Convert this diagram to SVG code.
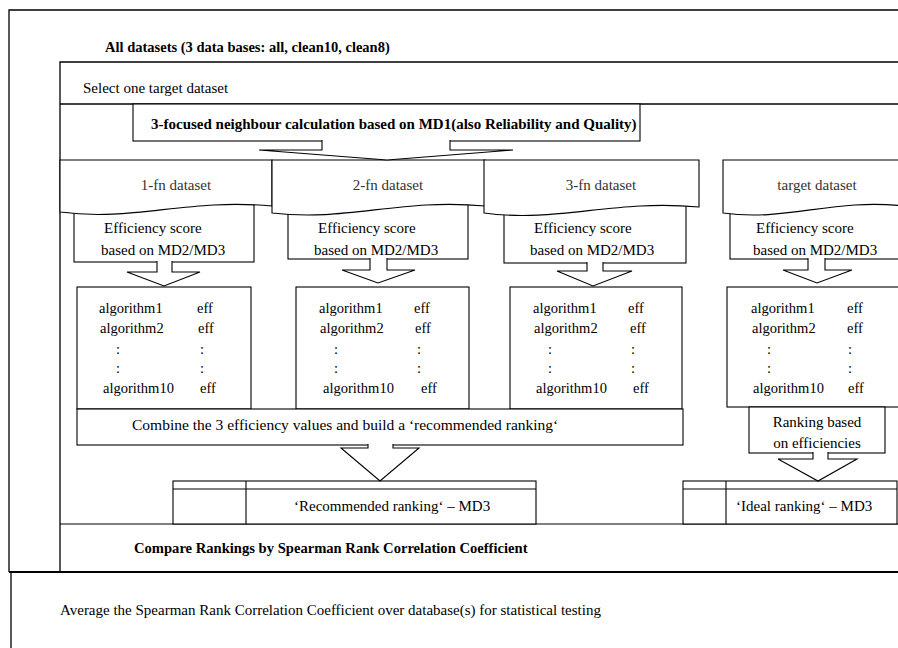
<svg xmlns="http://www.w3.org/2000/svg" width="898" height="648" viewBox="0 0 898 648">
<style>
  .frame { fill: none; stroke: #000; stroke-width: 1.3; }
  .thick { fill: none; stroke: #000; stroke-width: 2.2; }
  .box { fill: #fff; stroke: #000; stroke-width: 1.1; }
  .line { fill: none; stroke: #000; stroke-width: 1.1; }
  .arrow { fill: #fff; stroke: #000; stroke-width: 1.1; stroke-linejoin: miter; }
  text { font-family: "Liberation Serif", "Times New Roman", serif; fill: #000; }
  .b { font-weight: bold; font-size: 14.5px; }
  .r { font-size: 15px; }
  .ds { font-size: 15px; fill: #333; text-anchor: middle; }
  .alg { font-size: 14.5px; }
  .mid { text-anchor: middle; }
</style>

<g id="frames">
  <path class="frame" d="M9,572 V10 H900"/>
  <path class="frame" d="M60,572 V62 H900"/>
  <path class="frame" d="M60,104 H900"/>
  <path class="line" d="M60,524 H900"/>
  <path class="thick" d="M9,572 H900"/>
  <path class="frame" d="M11,572 V650"/>
  <text class="b" x="105" y="52">All datasets (3 data bases: all, clean10, clean8)</text>
  <text class="r" x="83" y="93">Select one target dataset</text>
  <text class="b" x="134" y="553" style="font-size:14.6px">Compare Rankings by Spearman Rank Correlation Coefficient</text>
  <text class="r" x="60" y="615">Average the Spearman Rank Correlation Coefficient over database(s) for statistical testing</text>
</g>

<g id="neighbour">
  <rect class="box" x="133" y="104" width="507" height="37"/>
  <text class="b" x="151" y="129" style="font-size:15px">3-focused neighbour calculation based on MD1(also Reliability and Quality)</text>
</g>

<!-- efficiency score boxes (drawn beneath dataset shapes) -->
<g id="eff1">
  <rect class="box" x="74" y="195" width="180" height="67"/>
  <text class="r" x="104" y="233">Efficiency score</text>
  <text class="r" x="101" y="255">based on MD2/MD3</text>
</g>
<g id="eff2">
  <rect class="box" x="288" y="195" width="180" height="64"/>
  <text class="r" x="318" y="233">Efficiency score</text>
  <text class="r" x="314" y="255">based on MD2/MD3</text>
</g>
<g id="eff3">
  <rect class="box" x="504" y="195" width="182" height="68"/>
  <text class="r" x="534" y="233">Efficiency score</text>
  <text class="r" x="530" y="255">based on MD2/MD3</text>
</g>
<g id="eff4">
  <rect class="box" x="730" y="195" width="180" height="64"/>
  <text class="r" x="756" y="233">Efficiency score</text>
  <text class="r" x="753" y="255">based on MD2/MD3</text>
</g>

<!-- dataset document shapes -->
<g id="ds1">
  <path class="box" d="M60,160 H272 V206 C187,198 134,222 60,212 Z"/>
  <text class="ds" x="176" y="190">1-fn dataset</text>
</g>
<g id="ds2">
  <path class="box" d="M272,160 H485 V206 C400,198 347,222 272,213 Z"/>
  <text class="ds" x="388" y="190">2-fn dataset</text>
</g>
<g id="ds3">
  <path class="box" d="M484,160 H699 V207 C613,199 559,223 484,213 Z"/>
  <text class="ds" x="601" y="190">3-fn dataset</text>
</g>
<g id="ds4">
  <path class="box" d="M723,160 H905 V206 C832,198 787,222 723,213 Z"/>
  <text class="ds" x="817" y="190">target dataset</text>
</g>

<!-- algorithm lists -->
<g id="alg1">
  <rect class="box" x="77" y="287" width="174" height="122"/>
  <text class="alg" x="99" y="313">algorithm1</text><text class="alg" x="197" y="313">eff</text>
  <text class="alg" x="100" y="333">algorithm2</text><text class="alg" x="198" y="333">eff</text>
  <text class="alg" x="116" y="354">:</text><text class="alg" x="200" y="354">:</text>
  <text class="alg" x="116" y="373">:</text><text class="alg" x="200" y="373">:</text>
  <text class="alg" x="103" y="393">algorithm10</text><text class="alg" x="200" y="393">eff</text>
</g>
<g id="alg2">
  <rect class="box" x="296" y="287" width="173" height="122"/>
  <text class="alg" x="319" y="313">algorithm1</text><text class="alg" x="414" y="313">eff</text>
  <text class="alg" x="320" y="333">algorithm2</text><text class="alg" x="415" y="333">eff</text>
  <text class="alg" x="334" y="354">:</text><text class="alg" x="417" y="354">:</text>
  <text class="alg" x="334" y="373">:</text><text class="alg" x="417" y="373">:</text>
  <text class="alg" x="323" y="393">algorithm10</text><text class="alg" x="421" y="393">eff</text>
</g>
<g id="alg3">
  <rect class="box" x="510" y="287" width="172" height="122"/>
  <text class="alg" x="533" y="313">algorithm1</text><text class="alg" x="628" y="313">eff</text>
  <text class="alg" x="534" y="333">algorithm2</text><text class="alg" x="630" y="333">eff</text>
  <text class="alg" x="548" y="354">:</text><text class="alg" x="631" y="354">:</text>
  <text class="alg" x="548" y="373">:</text><text class="alg" x="631" y="373">:</text>
  <text class="alg" x="536" y="393">algorithm10</text><text class="alg" x="633" y="393">eff</text>
</g>
<g id="alg4">
  <rect class="box" x="727" y="287" width="180" height="120"/>
  <text class="alg" x="751" y="313">algorithm1</text><text class="alg" x="847" y="313">eff</text>
  <text class="alg" x="752" y="333">algorithm2</text><text class="alg" x="847" y="333">eff</text>
  <text class="alg" x="767" y="354">:</text><text class="alg" x="848" y="354">:</text>
  <text class="alg" x="767" y="373">:</text><text class="alg" x="848" y="373">:</text>
  <text class="alg" x="753" y="393">algorithm10</text><text class="alg" x="848" y="393">eff</text>
</g>

<g id="combine">
  <rect class="box" x="77" y="409" width="606" height="36"/>
  <text class="r" x="132" y="430" style="font-size:15.5px">Combine the 3 efficiency values and build a ‘recommended ranking‘</text>
</g>
<g id="rankbased">
  <rect class="box" x="749" y="407" width="136" height="46"/>
  <text class="r mid" x="817" y="427">Ranking based</text>
  <text class="r mid" x="817" y="448">on efficiencies</text>
</g>

<g id="recommended">
  <rect class="box" x="173" y="481" width="363" height="43"/>
  <path class="line" d="M173,489 H536 M246,481 V524"/>
  <text class="r" x="294" y="511">‘Recommended ranking‘ – MD3</text>
</g>
<g id="ideal">
  <rect class="box" x="683" y="481" width="214" height="43"/>
  <path class="line" d="M683,489 H897 M726,481 V524"/>
  <text class="r" x="736" y="511">‘Ideal ranking‘ – MD3</text>
</g>

<!-- block arrows (connectors) -->
<g id="connectors">
  <path class="arrow" d="M322,140 V150 H259 L387,160 L513,150 H450 V140"/>
  <path class="arrow" d="M157,261 V272 H127 L164,286 L200,272 H172 V261"/>
  <path class="arrow" d="M370,258 V270 H342 L378,283 L415,270 H387 V258"/>
  <path class="arrow" d="M587,262 V271 H557 L593,286 L632,271 H603 V262"/>
  <path class="arrow" d="M808,258 V270 H783 L817,283 L852,270 H825 V258"/>
  <path class="arrow" d="M368,444 V448 H341 L380,481 L419,448 H393 V444"/>
  <path class="arrow" d="M813,452 V459 H778 L818,481 L857,459 H828 V452"/>
</g>
</svg>
